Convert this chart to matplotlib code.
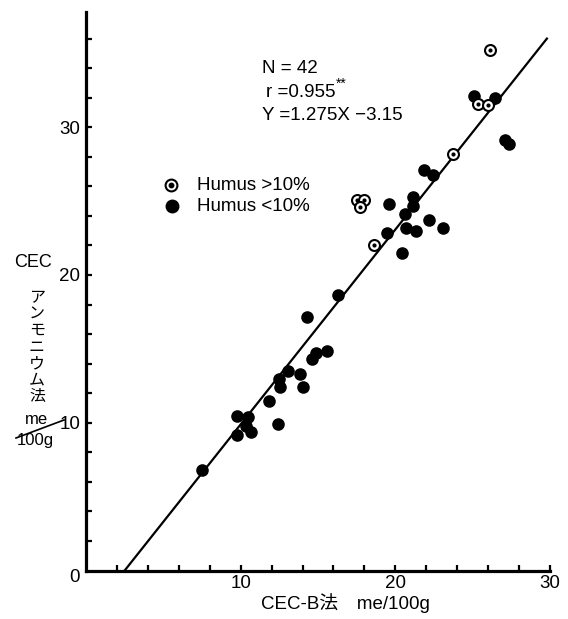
import numpy as np
import matplotlib
matplotlib.use('Agg')
import matplotlib.pyplot as plt

plt.rcParams['font.family'] = ['Liberation Sans', 'Noto Sans CJK JP']

W, H = 568, 619

# Humus > 10%  (open circles with a dot)
hi_x = [26.13, 25.35, 26.0, 23.74, 17.5, 17.95, 17.7, 18.65]
hi_y = [35.25, 31.6, 31.5, 28.2, 25.05, 25.05, 24.6, 22.0]

# Humus < 10%  (filled circles)
lo_x = [25.10, 26.45, 27.10, 27.35, 21.87, 22.45, 19.61, 21.16, 21.16, 20.65,
        22.19, 23.10, 20.71, 21.35, 19.48, 20.45, 16.32, 14.32, 15.61, 14.84,
        14.58, 13.03, 13.81, 12.45, 12.52, 14.00, 11.81, 9.74, 10.45, 10.32,
        12.39, 9.74, 10.65, 7.48]
lo_y = [32.10, 31.97, 29.12, 28.85, 27.08, 26.75, 24.78, 25.25, 24.64, 24.10,
        23.69, 23.15, 23.15, 22.95, 22.81, 21.46, 18.68, 17.19, 14.88, 14.75,
        14.34, 13.53, 13.32, 12.98, 12.44, 12.44, 11.49, 10.47, 10.41, 9.80,
        9.93, 9.19, 9.39, 6.81]

# regression line as drawn in the figure
line_x = [2.5, 29.8]
line_y = [0.0, 36.0]

x_ticks = np.arange(2, 31, 2)
y_ticks = np.arange(2, 37, 2)
labeled = [10, 20, 30]

stats = ['N = 42', 'r =0.955', 'Y =1.275X −3.15']
legend_labels = ['Humus >10%', 'Humus <10%']


def px(x, y):
    # pixel position -> figure fraction
    return x / W, 1 - y / H


fig = plt.figure(figsize=(W / 100, H / 100), dpi=100)
l, b = px(86, 570.5)
r, t = px(550, 12)
ax = fig.add_axes([l, b, r - l, t - b])
ax.set_xlim(0, 30)
ax.set_ylim(0, 37.8)

for s in ['top', 'right']:
    ax.spines[s].set_visible(False)
for s in ['left', 'bottom']:
    ax.spines[s].set_linewidth(2.3)

ax.set_xticks(x_ticks)
ax.set_xticklabels([str(v) if v in labeled else '' for v in x_ticks])
ax.set_yticks(y_ticks)
ax.set_yticklabels([str(v) if v in labeled else '' for v in y_ticks])
ax.tick_params(direction='in', length=4, width=1.6, labelsize=13.5)
ax.tick_params(axis='x', pad=3)
ax.tick_params(axis='y', pad=4)

ax.plot(line_x, line_y, color='black', lw=1.6, zorder=2)
ax.scatter(lo_x, lo_y, s=82, color='black', zorder=3, linewidths=0)
ax.scatter(hi_x, hi_y, s=62, facecolor='white', edgecolor='black',
           linewidths=1.5, zorder=4)
ax.scatter(hi_x, hi_y, s=9, color='black', zorder=5, linewidths=0)

# origin label
fig.text(*px(75, 578), '0', fontsize=13.5, ha='center', va='center')

# statistics
fig.text(*px(262, 73), stats[0], fontsize=13.5, ha='left', va='baseline')
tr = fig.text(*px(266, 97), stats[1], fontsize=13.5, ha='left', va='baseline')
ax.annotate('**', xy=(1.0, 0.62), xycoords=tr, fontsize=10,
            ha='left', va='bottom')
fig.text(*px(262, 120), stats[2], fontsize=13.5, ha='left', va='baseline')

# legend
mx, my = px(171, 185)
fig.add_artist(plt.Line2D([mx], [my], marker='o', ms=8.5, mfc='white',
                          mec='black', mew=1.5, transform=fig.transFigure))
fig.add_artist(plt.Line2D([mx], [my], marker='o', ms=3.2, color='black',
                          transform=fig.transFigure))
mx, my = px(172, 206)
fig.add_artist(plt.Line2D([mx], [my], marker='o', ms=9, color='black',
                          transform=fig.transFigure))
fig.text(*px(197, 185), legend_labels[0], fontsize=13.5, ha='left', va='center')
fig.text(*px(197, 206), legend_labels[1], fontsize=13.5, ha='left', va='center')

# y label
fig.text(*px(33, 262), 'CEC', fontsize=13, ha='center', va='center')
fig.text(*px(37, 347), '\n'.join('アンモニウム法'), fontsize=11.5,
         ha='center', va='center', linespacing=1.12)
fig.text(*px(36, 419), 'me', fontsize=12, ha='center', va='center')
fig.text(*px(35, 441), '100g', fontsize=12, ha='center', va='center')
fig.add_artist(plt.Line2D([16 / W, 64 / W], [1 - 438 / H, 1 - 420 / H],
                          color='black', lw=1.2, transform=fig.transFigure))

# x label
fig.text(*px(345, 603), 'CEC-B法　me/100g', fontsize=13.5,
         ha='center', va='center')

fig.savefig('out.png', dpi=100)
